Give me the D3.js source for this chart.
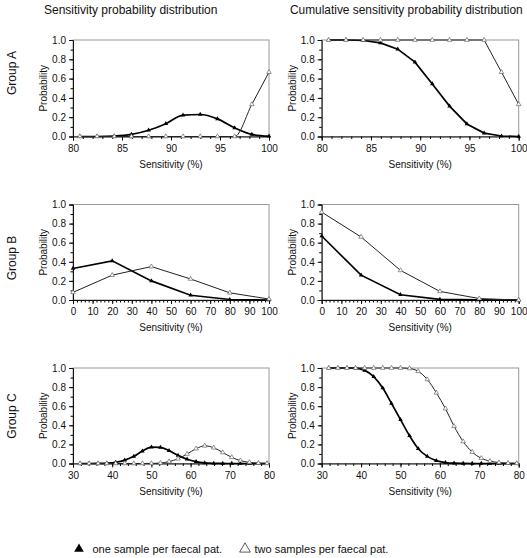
<!DOCTYPE html>
<html><head><meta charset="utf-8">
<script src="https://cdn.jsdelivr.net/npm/d3@7"></script>
<style>
body{margin:0;background:#fff;}
svg{display:block;font-family:"Liberation Sans",Arial,sans-serif;}
</style></head>
<body><svg id="c" width="527" height="558"></svg>
<script>
// ---------- data ----------
const columnTitles = ["Sensitivity probability distribution", "Cumulative sensitivity probability distribution"];
const groupNames = ["Group A", "Group B", "Group C"];
const legendLabels = ["one sample per faecal pat.", "two samples per faecal pat."];

const xA = [80.70, 82.46, 84.21, 85.96, 87.72, 89.47, 91.23, 92.98, 94.74, 96.49, 98.25, 100];
const pdfA1 = [0, 0, 0.005, 0.022, 0.065, 0.133, 0.222, 0.228, 0.183, 0.09, 0.022, 0.003];
const pdfA2 = [0, 0, 0, 0, 0, 0, 0, 0, 0, 0, 0.333, 0.667];
const cumA1 = [1, 1, 0.995, 0.97, 0.905, 0.77, 0.545, 0.315, 0.13, 0.035, 0.005, 0];
const cumA2 = [1, 1, 1, 1, 1, 1, 1, 1, 1, 1, 0.667, 0.333];
const ticksA = [80, 85, 90, 95, 100];

const xB = [0, 20, 40, 60, 80, 100];
const pdfB1 = [0.33, 0.41, 0.2, 0.05, 0.005, 0];
const pdfB2 = [0.08, 0.26, 0.35, 0.22, 0.075, 0.01];
const cumB1 = [0.67, 0.26, 0.055, 0.006, 0.001, 0];
const cumB2 = [0.92, 0.66, 0.31, 0.09, 0.015, 0];
const ticksB = [0, 10, 20, 30, 40, 50, 60, 70, 80, 90, 100];

const xC = [31.8, 34.1, 36.4, 38.6, 40.9, 43.2, 45.5, 47.7, 50.0, 52.3, 54.5, 56.8, 59.1, 61.4, 63.6, 65.9, 68.2, 70.5, 72.7, 75.0, 77.3, 79.5];
const pdfC1 = [0, 0, 0.001, 0.004, 0.013, 0.035, 0.075, 0.13, 0.172, 0.168, 0.135, 0.085, 0.045, 0.02, 0.007, 0.002, 0.0005, 0, 0, 0, 0, 0];
const pdfC2 = [0, 0, 0, 0, 0, 0, 0, 0, 0.001, 0.005, 0.02, 0.05, 0.1, 0.155, 0.185, 0.165, 0.115, 0.065, 0.03, 0.012, 0.004, 0.001];
const cumC1 = [1, 1, 1, 0.998, 0.975, 0.91, 0.79, 0.63, 0.46, 0.29, 0.155, 0.075, 0.03, 0.01, 0.003, 0.001, 0, 0, 0, 0, 0, 0];
const cumC2 = [1, 1, 1, 1, 1, 1, 1, 1, 1, 0.995, 0.965, 0.88, 0.74, 0.575, 0.39, 0.23, 0.12, 0.055, 0.025, 0.01, 0.004, 0.001];
const ticksC = [30, 40, 50, 60, 70, 80];

const yTicks = [0, 0.2, 0.4, 0.6, 0.8, 1.0];

// ---------- layout ----------
const svg = d3.select("#c");
const colX = [[73, 269], [321.7, 518.7]];
const rowY = [[40, 136.5], [204.5, 300], [368, 463.5]];
const rows = [
  {x: xA, dom: [80, 100], ticks: ticksA, minor: 1, smooth: [true, false], data: [[pdfA1, pdfA2], [cumA1, cumA2]]},
  {x: xB, dom: [0, 100], ticks: ticksB, minor: 2, smooth: [false, false], data: [[pdfB1, pdfB2], [cumB1, cumB2]]},
  {x: xC, dom: [30, 80], ticks: ticksC, minor: 2, smooth: [true, true], data: [[pdfC1, pdfC2], [cumC1, cumC2]]}
];
const groupLabelY = [73, 258, 416];

const tri = d3.symbol().type(d3.symbolTriangle);

rows.forEach((r, ri) => {
  const [top, bot] = rowY[ri];
  for (let ci = 0; ci < 2; ci++) {
    const [l, rr] = colX[ci];
    const x = d3.scaleLinear().domain(r.dom).range([l, rr]);
    const y = d3.scaleLinear().domain([0, 1]).range([bot, top]);
    const g = svg.append("g");
    // frame
    g.append("rect").attr("x", l).attr("y", top).attr("width", rr - l).attr("height", bot - top)
      .attr("fill", "none").attr("stroke", "#9a9a9a").attr("stroke-width", 1);
    // minor ticks
    const minorX = d3.range(r.dom[0], r.dom[1] + 0.001, r.minor);
    g.append("g").attr("transform", `translate(0,${bot})`)
      .call(d3.axisBottom(x).tickValues(minorX).tickSize(2.5).tickFormat(""))
      .call(a => a.select(".domain").remove());
    g.append("g").attr("transform", `translate(${l},0)`)
      .call(d3.axisLeft(y).tickValues(d3.range(0, 1.001, 0.1)).tickSize(2.5).tickFormat(""))
      .call(a => a.select(".domain").remove());
    // major axes
    const ax = g.append("g").attr("transform", `translate(0,${bot})`)
      .call(d3.axisBottom(x).tickValues(r.ticks).tickSize(4).tickPadding(4).tickFormat(d3.format("d")));
    const ay = g.append("g").attr("transform", `translate(${l},0)`)
      .call(d3.axisLeft(y).tickValues(yTicks).tickSize(4).tickPadding(3).tickFormat(d3.format(".1f")));
    [ax, ay].forEach(a => {
      a.selectAll("text").attr("font-size", 10).attr("font-family", "Liberation Sans, Arial").attr("fill", "#111");
      a.selectAll("line,path").attr("stroke", "#111");
    });
    // axis titles
    g.append("text").attr("x", (l + rr) / 2).attr("y", bot + 31).attr("text-anchor", "middle")
      .attr("font-size", 10).attr("fill", "#111").text("Sensitivity (%)");
    g.append("text").attr("transform", `translate(${l - 26},${(top + bot) / 2}) rotate(-90)`)
      .attr("text-anchor", "middle").attr("font-size", 10).attr("fill", "#111").text("Probability");
    // series
    const vals = r.data[ci];
    const smooth = r.smooth[ci];
    vals.forEach((v, si) => {
      const pts = r.x.map((xx, i) => [x(xx), y(v[i])]);
      const line = d3.line().curve(smooth ? d3.curveMonotoneX : d3.curveLinear);
      g.append("path").attr("d", line(pts)).attr("fill", "none")
        .attr("stroke", si === 0 ? "#000" : "#222").attr("stroke-width", si === 0 ? 1.7 : 1.0);
      g.selectAll(null).data(pts).join("path")
        .attr("transform", d => `translate(${d[0]},${d[1]})`)
        .attr("d", tri.size(si === 0 ? 9 : 9)())
        .attr("fill", si === 0 ? "#000" : "#fff")
        .attr("stroke", si === 0 ? "none" : "#666").attr("stroke-width", 0.7);
    });
  }
  svg.append("text").attr("transform", `translate(16,${groupLabelY[ri]}) rotate(-90)`)
    .attr("text-anchor", "middle").attr("font-size", 12).attr("fill", "#111").text(groupNames[ri]);
});

// column titles
svg.append("text").attr("x", 44).attr("y", 14).attr("font-size", 12).attr("fill", "#111").text(columnTitles[0]);
svg.append("text").attr("x", 290).attr("y", 14).attr("font-size", 11.9).attr("fill", "#111").text(columnTitles[1]);

// legend
const lg = svg.append("g");
lg.append("path").attr("transform", "translate(79,549)").attr("d", d3.symbol().type(d3.symbolTriangle).size(40)()).attr("fill", "#000");
lg.append("text").attr("x", 92.5).attr("y", 553).attr("font-size", 11).attr("fill", "#111").text(legendLabels[0]);
lg.append("path").attr("transform", "translate(245,549)").attr("d", d3.symbol().type(d3.symbolTriangle).size(50)()).attr("fill", "#fff").attr("stroke", "#333").attr("stroke-width", 0.8);
lg.append("text").attr("x", 254.5).attr("y", 553).attr("font-size", 11).attr("fill", "#111").text(legendLabels[1]);
</script></body></html>
